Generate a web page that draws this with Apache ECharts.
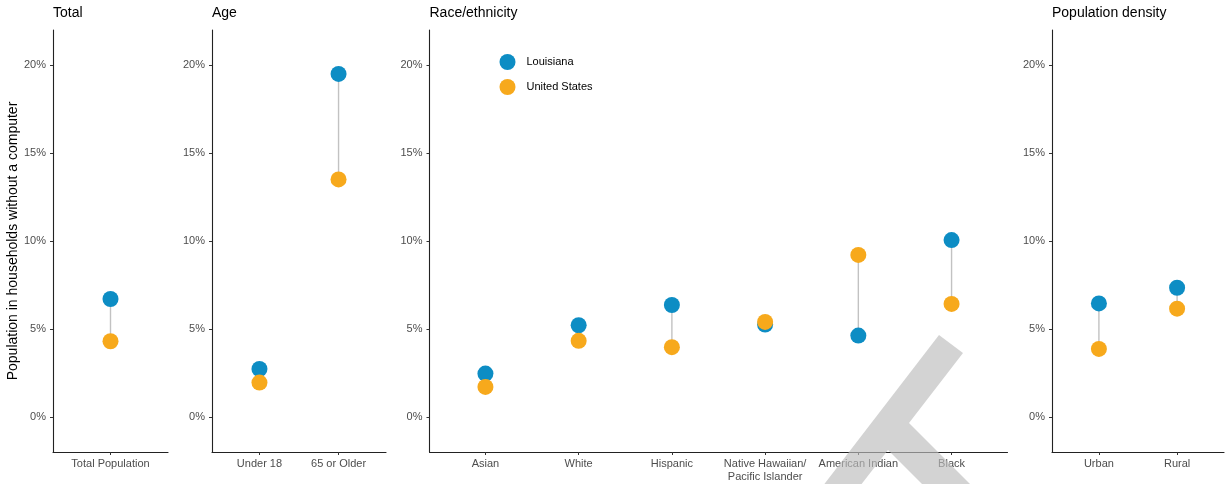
<!DOCTYPE html>
<html>
<head>
<meta charset="utf-8">
<script src="https://cdn.jsdelivr.net/npm/echarts@6/dist/echarts.min.js"></script>
<style>
html,body{margin:0;padding:0;background:#fff;}
#chart{width:1225px;height:484px;}
</style>
</head>
<body>
<div id="chart"></div>
<script>
// ---- data ----
const panelTitles = ['Total', 'Age', 'Race/ethnicity', 'Population density'];
const seriesNames = ['Louisiana', 'United States'];
const yTicks = [0, 5, 10, 15, 20];

const totalCats = ['Total Population'];
const totalLA = [6.7];
const totalUS = [4.3];

const ageCats = ['Under 18', '65 or Older'];
const ageLA = [2.72, 19.5];
const ageUS = [1.95, 13.5];

const raceCats = ['Asian', 'White', 'Hispanic', 'Native Hawaiian/\nPacific Islander', 'American Indian', 'Black'];
const raceLA = [2.46, 5.21, 6.36, 5.25, 4.62, 10.05];
const raceUS = [1.7, 4.32, 3.96, 5.4, 9.21, 6.42];

const densCats = ['Urban', 'Rural'];
const densLA = [6.45, 7.34];
const densUS = [3.86, 6.15];

// ---- layout / style ----
const FONT = '"Liberation Sans", Arial, sans-serif';
const BLUE = '#0d8dc4';
const ORANGE = '#f7a91c';
const panels = [
  { cats: totalCats, la: totalLA, us: totalUS, left: 53, width: 115 },
  { cats: ageCats, la: ageLA, us: ageUS, left: 212, width: 174 },
  { cats: raceCats, la: raceLA, us: raceUS, left: 429.5, width: 578 },
  { cats: densCats, la: densLA, us: densUS, left: 1052, width: 172 }
];

const grid = [], xAxis = [], yAxis = [], series = [], title = [];
panels.forEach((p, k) => {
  grid.push({ left: p.left, width: p.width, top: 30, height: 422, containLabel: false, outerBoundsMode: 'none' });
  title.push({
    text: panelTitles[k], left: p.left, top: 6, padding: 0,
    textStyle: { fontFamily: FONT, fontSize: 14, fontWeight: 'normal', color: '#000' }
  });
  const idx = p.cats.map((c, i) => i);
  xAxis.push({
    type: 'value', gridIndex: k, min: -0.6, max: p.cats.length - 0.4,
    axisLine: { show: true, onZero: false, lineStyle: { color: '#222', width: 1.1 } },
    axisTick: { show: true, length: 3, customValues: idx, lineStyle: { color: '#333' } },
    axisLabel: {
      customValues: idx, margin: 5, fontFamily: FONT, fontSize: 11, color: '#4d4d4d', lineHeight: 13,
      formatter: v => p.cats[Math.round(v)]
    },
    splitLine: { show: false }
  });
  yAxis.push({
    type: 'value', gridIndex: k, min: -2, max: 22,
    axisLine: { show: true, onZero: false, lineStyle: { color: '#222', width: 1.1 } },
    axisTick: { show: true, length: 3, customValues: yTicks, lineStyle: { color: '#333' } },
    axisLabel: {
      customValues: yTicks, margin: 7, fontFamily: FONT, fontSize: 11, color: '#4d4d4d',
      formatter: v => v + '%'
    },
    splitLine: { show: false },
    name: k === 0 ? 'Population in households without a computer' : '',
    nameLocation: 'middle', nameRotate: 90, nameGap: 33,
    nameTextStyle: { fontFamily: FONT, fontSize: 14, color: '#000' }
  });
  series.push({
    type: 'custom', xAxisIndex: k, yAxisIndex: k, silent: true, z: 1,
    data: p.cats.map((c, i) => [i, p.la[i], p.us[i]]),
    encode: { x: 0, y: [1, 2] },
    renderItem: (params, api) => {
      const a = api.coord([api.value(0), api.value(1)]);
      const b = api.coord([api.value(0), api.value(2)]);
      return { type: 'line', shape: { x1: a[0], y1: a[1], x2: b[0], y2: b[1] },
               style: { stroke: '#c2c2c2', lineWidth: 1.4 } };
    }
  });
  series.push({
    type: 'scatter', name: seriesNames[0], xAxisIndex: k, yAxisIndex: k, z: 3,
    symbolSize: 16, itemStyle: { color: BLUE, opacity: 1 },
    data: p.cats.map((c, i) => [i, p.la[i]])
  });
  series.push({
    type: 'scatter', name: seriesNames[1], xAxisIndex: k, yAxisIndex: k, z: 4,
    symbolSize: 16, itemStyle: { color: ORANGE, opacity: 1 },
    data: p.cats.map((c, i) => [i, p.us[i]])
  });
});

const chart = echarts.init(document.getElementById('chart'), null, { renderer: 'canvas' });
chart.setOption({
  animation: false,
  backgroundColor: '#fff',
  textStyle: { fontFamily: FONT },
  title: title,
  grid: grid,
  xAxis: xAxis,
  yAxis: yAxis,
  legend: {
    data: seriesNames, orient: 'vertical', left: 499.5, top: 54, padding: 0,
    icon: 'circle', itemWidth: 16, itemHeight: 16, itemGap: 9,
    textStyle: { fontFamily: FONT, fontSize: 11, color: '#000', padding: [0, 0, 0, 6] }
  },
  series: series,
  graphic: [{
    type: 'polygon', z: 100, silent: true,
    shape: { points: [[939, 335], [963, 353], [909, 423], [972, 486], [948, 510], [888, 450], [822, 535], [799, 517]] },
    style: { fill: 'rgba(188,188,188,0.66)' }
  }]
});
</script>
</body>
</html>
